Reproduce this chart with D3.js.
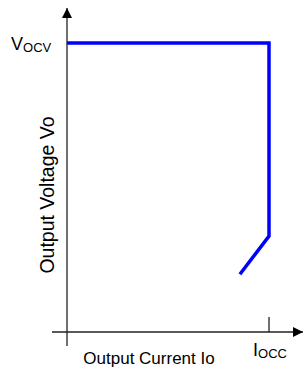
<!DOCTYPE html>
<html>
<head>
<meta charset="utf-8">
<script src="https://cdn.jsdelivr.net/npm/d3@7"></script>
<style>
  body { margin: 0; background: #fff; }
  text { font-family: "Liberation Sans", Arial, sans-serif; fill: #000; }
</style>
</head>
<body>
<div id="chart"></div>
<script>
// Output current (fraction of Iocc) and output voltage (fraction of Vocv)
const current = [0, 1, 1, 0.856];
const voltage = [1, 1, 0.332, 0.2];
const xTicks = [1];
const yTicks = [1];

const width = 303;
const height = 367;
const originX = 67;
const originY = 332;

const x = d3.scaleLinear().domain([0, 1]).range([originX, 269]);
const y = d3.scaleLinear().domain([0, 1]).range([originY, 43]);

const svg = d3.select("#chart")
    .append("svg")
    .attr("width", width)
    .attr("height", height);

svg.append("defs").append("marker")
    .attr("id", "arrow")
    .attr("viewBox", "0 0 10 10")
    .attr("refX", 10)
    .attr("refY", 5)
    .attr("markerWidth", 10)
    .attr("markerHeight", 10)
    .attr("markerUnits", "userSpaceOnUse")
    .attr("orient", "auto")
    .append("path")
    .attr("d", "M0,0 L10,5 L0,10 Z")
    .attr("fill", "#000");

// axes
svg.append("line")
    .attr("x1", originX).attr("y1", 346)
    .attr("x2", originX).attr("y2", 8)
    .attr("stroke", "#222").attr("stroke-width", 1.3)
    .attr("marker-end", "url(#arrow)");
svg.append("line")
    .attr("x1", 52).attr("y1", originY)
    .attr("x2", 303).attr("y2", originY)
    .attr("stroke", "#222").attr("stroke-width", 1.3)
    .attr("marker-end", "url(#arrow)");

// Iocc tick
svg.selectAll(".xtick").data(xTicks).join("line")
    .attr("x1", d => x(d)).attr("x2", d => x(d))
    .attr("y1", originY - 15).attr("y2", originY)
    .attr("stroke", "#222").attr("stroke-width", 1.3);

// curve
const line = d3.line().x(d => x(d[0])).y(d => y(d[1]));
svg.append("path")
    .datum(current.map((c, i) => [c, voltage[i]]))
    .attr("d", line)
    .attr("fill", "none")
    .attr("stroke", "#0000ff")
    .attr("stroke-width", 3.5)
    .attr("stroke-linejoin", "miter");

// labels
const vl = svg.selectAll(".ylab").data(yTicks).join("text")
    .attr("x", 11).attr("y", d => y(d) + 7)
    .attr("font-size", 18);
vl.append("tspan").text("V");
vl.append("tspan").attr("font-size", 13).attr("dy", 2).text("OCV");

const il = svg.selectAll(".xlab").data(xTicks).join("text")
    .attr("x", d => x(d) - 16).attr("y", 356)
    .attr("font-size", 18);
il.append("tspan").text("I");
il.append("tspan").attr("font-size", 13).attr("dy", 2).text("OCC");

svg.append("text")
    .attr("x", 149).attr("y", 364)
    .attr("text-anchor", "middle")
    .attr("font-size", 17)
    .text("Output Current Io");

svg.append("text")
    .attr("transform", "translate(54,195) rotate(-90)")
    .attr("text-anchor", "middle")
    .attr("font-size", 19.5)
    .text("Output Voltage Vo");
</script>
</body>
</html>
